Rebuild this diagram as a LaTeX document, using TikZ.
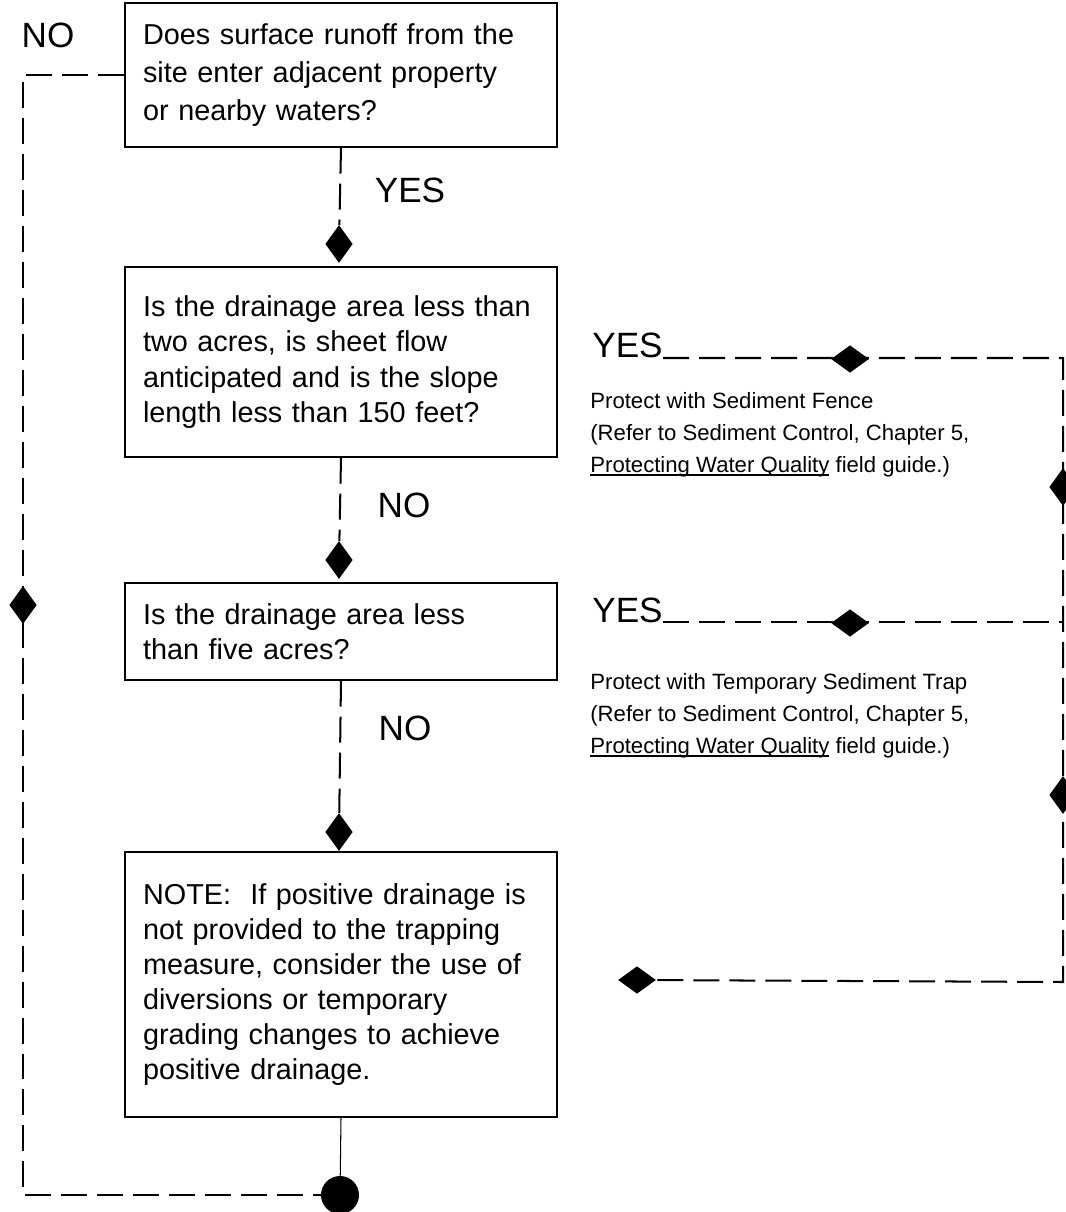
\documentclass[tikz,border=0pt]{standalone}
\usepackage{fontspec}
\setmainfont{Liberation Sans}
\usetikzlibrary{shapes.geometric}

\newsavebox{\titlebox}
\newcommand{\guidetitle}[1]{\sbox{\titlebox}{#1}\rlap{\rule[-1.6pt]{\wd\titlebox}{0.6pt}}\usebox{\titlebox}}

\begin{document}
\begin{tikzpicture}[x=0.02cm, y=-0.02cm,
        question/.style={draw, line width=0.85pt, rectangle, minimum width=8.64cm,
            text width=7.92cm, inner xsep=0.36cm, align=left,
            font=\fontsize{16.4}{20}\selectfont},
        answer/.style={inner sep=0pt, font=\fontsize{20}{24}\selectfont},
        remedy/.style={anchor=west, inner sep=0pt, align=left,
            font=\fontsize{12.6}{18.2}\selectfont},
        flowline/.style={line width=1.15pt, dash pattern=on 0.52cm off 0.2cm},
        vmark/.style={diamond, fill=black, inner sep=0pt, minimum width=0.55cm, minimum height=0.76cm},
        hmark/.style={diamond, fill=black, inner sep=0pt, minimum width=0.76cm, minimum height=0.55cm},
        endpoint/.style={circle, fill=black, inner sep=0pt, minimum size=0.76cm}
    ]
    \useasboundingbox (0,0) rectangle (1065,1212);

    % Domande
    \node[question, minimum height=2.88cm, font=\fontsize{16.4}{21.5}\selectfont] (runoff) at (341,75)
        {Does surface runoff from the\\site enter adjacent property\\or nearby waters?};
    \node[question, minimum height=3.8cm] (twoacres) at (341,362)
        {Is the drainage area less than\\two acres, is sheet flow\\anticipated and is the slope\\length less than 150 feet?};
    \node[question, minimum height=1.94cm] (fiveacres) at (341,631.5)
        {Is the drainage area less\\than five acres?};
    \node[question, minimum height=5.3cm] (note) at (341,984.5)
        {NOTE:\ \ If positive drainage is\\not provided to the trapping\\measure, consider the use of\\diversions or temporary\\grading changes to achieve\\positive drainage.\par\vspace{0.68cm}};

    % Risposte
    \node[answer] (norunoff) at (48,35) {NO};
    \node[answer] (yesrunoff) at (410,190) {YES};
    \node[answer] (notwo) at (404,505) {NO};
    \node[answer] (nofive) at (405,728) {NO};
    \node[answer, anchor=base west] (yesfence) at (592,358) {YES};
    \node[answer, anchor=base west] (yestrap) at (592,622) {YES};

    % Rimedi
    \node[remedy] (fence) at (590,435)
        {Protect with Sediment Fence\\(Refer to Sediment Control, Chapter 5,\\\guidetitle{Protecting Water Quality} field guide.)};
    \node[remedy] (trap) at (590,716)
        {Protect with Temporary Sediment Trap\\(Refer to Sediment Control, Chapter 5,\\\guidetitle{Protecting Water Quality} field guide.)};

    % Marcatori
    \node[vmark] (yesmark) at (339,244) {};
    \node[vmark] (twomark) at (339,560) {};
    \node[vmark] (fivemark) at (339,832) {};
    \node[vmark] (leftmark) at (23,605) {};
    \node[hmark] (fencemark) at (850,359) {};
    \node[hmark] (trapmark) at (850,623) {};
    \node[vmark] (downmark1) at (1063,487) {};
    \node[vmark] (downmark2) at (1063,795) {};
    \node[hmark] (returnmark) at (637,980) {};
    \node[endpoint] (sink) at (340,1195) {};

    \coordinate (bottomcorner) at (23,1195);
    \coordinate (fencecorner) at (1063,358);
    \coordinate (trapcorner) at (1063,622);
    \coordinate (returncorner) at (1063,982);

    % Collegamenti
    \draw[flowline] (runoff.south) -- (yesmark);
    \draw[flowline] (twoacres.south) -- (twomark);
    \draw[flowline] (fiveacres.south) -- (fivemark);
    \draw[line width=0.6pt] (note.south) -- (sink);
    \draw[flowline] (runoff.west) -| (bottomcorner) -- (sink);
    \draw[flowline] (yesfence.base east) -- (fencecorner) -- (returncorner) -- (returnmark);
    \draw[flowline] (yestrap.base east) -- (trapcorner);
\end{tikzpicture}
\end{document}
